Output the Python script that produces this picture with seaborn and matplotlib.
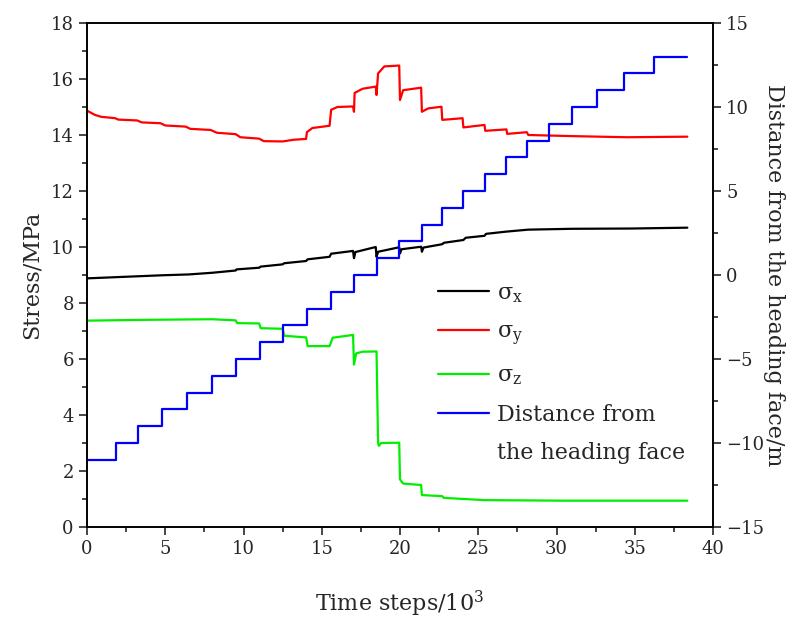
import numpy as np
import pandas as pd
import seaborn as sns
import matplotlib.pyplot as plt
from matplotlib.ticker import MultipleLocator

# time steps (10^3) and stresses (MPa)
# repeated x values give the vertical jumps at each excavation step
sx_t = [0, 4.8, 6.5, 8.0, 9.5, 9.55, 11.0, 11.1, 12.5, 12.6, 14.0, 14.1,
        15.5, 15.6, 17.0, 17.06, 17.15, 18.45, 18.5, 18.6, 19.95, 20.0,
        20.1, 21.35, 21.4, 21.5, 22.7, 22.8, 24.05, 24.2, 25.4, 25.5,
        26.8, 28.2, 31.0, 34.8, 38.36]
sx_val = [8.88, 8.99, 9.02, 9.08, 9.16, 9.2, 9.26, 9.3, 9.38, 9.42, 9.5,
          9.56, 9.65, 9.76, 9.86, 9.6, 9.82, 10.0, 9.65, 9.83, 9.99, 9.77,
          9.92, 10.01, 9.83, 9.98, 10.1, 10.15, 10.25, 10.33, 10.4, 10.47,
          10.55, 10.62, 10.65, 10.66, 10.69]

sy_t = [0, 0.5, 0.9, 1.8, 2.0, 3.2, 3.5, 4.7, 5.0, 6.3, 6.6, 7.9, 8.3,
        9.5, 9.8, 11.0, 11.3, 12.5, 13.2, 14.0, 14.05, 14.4, 15.5, 15.6,
        16.0, 17.0, 17.06, 17.1, 17.6, 18.45, 18.5, 18.6, 19.0, 19.95,
        20.0, 20.2, 21.35, 21.4, 21.8, 22.65, 22.7, 24.0, 24.05, 25.4,
        25.45, 26.8, 26.85, 28.1, 28.2, 31.0, 34.5, 38.36]
sy_val = [14.87, 14.72, 14.65, 14.6, 14.55, 14.52, 14.45, 14.42, 14.34,
          14.3, 14.22, 14.18, 14.08, 14.03, 13.92, 13.87, 13.78, 13.77,
          13.83, 13.86, 14.1, 14.25, 14.33, 14.9, 15.0, 15.02, 14.83, 15.5,
          15.65, 15.73, 15.43, 16.2, 16.45, 16.48, 15.25, 15.6, 15.69,
          14.83, 14.95, 15.01, 14.54, 14.6, 14.27, 14.36, 14.15, 14.2,
          14.04, 14.1, 14.0, 13.96, 13.92, 13.94]

sz_t = [0, 4.0, 8.0, 9.5, 9.6, 11.0, 11.1, 12.5, 12.6, 14.0, 14.1, 15.5,
        15.7, 17.0, 17.06, 17.2, 17.6, 18.5, 18.6, 18.65, 18.8, 19.95,
        20.0, 20.2, 21.35, 21.4, 22.7, 22.8, 25.4, 30.5, 38.36]
sz_val = [7.37, 7.4, 7.42, 7.38, 7.28, 7.27, 7.1, 7.08, 6.83, 6.77, 6.46,
          6.46, 6.76, 6.86, 5.8, 6.2, 6.26, 6.27, 3.0, 2.9, 3.0, 3.01, 1.7,
          1.55, 1.5, 1.14, 1.1, 1.04, 0.96, 0.94, 0.94]

# distance from the heading face (m), one metre per excavation step
step_t = [0, 1.83, 3.24, 4.77, 6.37, 7.97, 9.5, 11.05, 12.55, 14.08, 15.57,
          17.06, 18.5, 19.96, 21.4, 22.7, 24.05, 25.4, 26.8, 28.1, 29.5,
          31.0, 32.6, 34.3, 36.2, 38.36]
step_dist = [-11, -10, -9, -8, -7, -6, -5, -4, -3, -2, -1, 0, 1, 2, 3, 4,
             5, 6, 7, 8, 9, 10, 11, 12, 13, 13]

sns.set_style('ticks')
plt.rcParams['font.family'] = ['DejaVu Serif']
plt.rcParams['mathtext.fontset'] = 'dejavuserif'
plt.rcParams['xtick.direction'] = 'out'
plt.rcParams['ytick.direction'] = 'out'

fig = plt.figure(figsize=(7.87, 6.21), dpi=100)
ax = fig.add_axes([87 / 787, 1 - 527 / 621, (713 - 87) / 787, (527 - 23) / 621])
ax2 = ax.twinx()

lw = 1.6
sns.lineplot(x=sx_t, y=sx_val, ax=ax, color='black', lw=lw,
             estimator=None, sort=False, label='σ$_\\mathrm{x}$')
sns.lineplot(x=sy_t, y=sy_val, ax=ax, color='#ff0000', lw=lw,
             estimator=None, sort=False, label='σ$_\\mathrm{y}$')
sns.lineplot(x=sz_t, y=sz_val, ax=ax, color='#00ee00', lw=lw,
             estimator=None, sort=False, label='σ$_\\mathrm{z}$')
sns.lineplot(x=step_t, y=step_dist, ax=ax2, color='#0000ff', lw=lw,
             estimator=None, sort=False, drawstyle='steps-post',
             label='Distance from')

ax.set_xlim(0, 40)
ax.set_ylim(0, 18)
ax2.set_ylim(-15, 15)
ax.xaxis.set_major_locator(MultipleLocator(5))
ax.xaxis.set_minor_locator(MultipleLocator(2.5))
ax.yaxis.set_major_locator(MultipleLocator(2))
ax.yaxis.set_minor_locator(MultipleLocator(1))
ax2.yaxis.set_major_locator(MultipleLocator(5))
ax2.yaxis.set_minor_locator(MultipleLocator(2.5))

for a in (ax, ax2):
    a.tick_params(which='major', length=6, width=1.2, labelsize=13)
    a.tick_params(which='minor', length=3.5, width=1.2)
    for s in a.spines.values():
        s.set_visible(True)
        s.set_linewidth(1.2)
        s.set_color('black')

ax.set_xlabel('Time steps/10$^3$', fontsize=16, labelpad=22)
ax.set_ylabel('Stress/MPa', fontsize=16, labelpad=6)
ax2.set_ylabel('Distance from the heading face/m', fontsize=16,
               rotation=270, va='center', ha='center')
ax2.yaxis.set_label_coords(1.098, 0.5)

h1, l1 = ax.get_legend_handles_labels()
h2, l2 = ax2.get_legend_handles_labels()
ax.get_legend().remove()
ax2.get_legend().remove()
leg = ax2.legend(h1 + h2, l1 + l2, loc='upper left', frameon=False,
                 bbox_to_anchor=(418 / 787, 1 - 262 / 621),
                 bbox_transform=fig.transFigure, fontsize=16,
                 handlelength=2.3, handletextpad=0.35, labelspacing=0.75)

# second line of the last entry; the handle stays on the first line
fig.canvas.draw()
bb = leg.get_texts()[-1].get_window_extent()
fig.text(bb.x0 / fig.bbox.width, (bb.y0 - 38) / fig.bbox.height,
         'the heading face', fontsize=16, ha='left', va='bottom')

fig.savefig('out.png', dpi=100)
